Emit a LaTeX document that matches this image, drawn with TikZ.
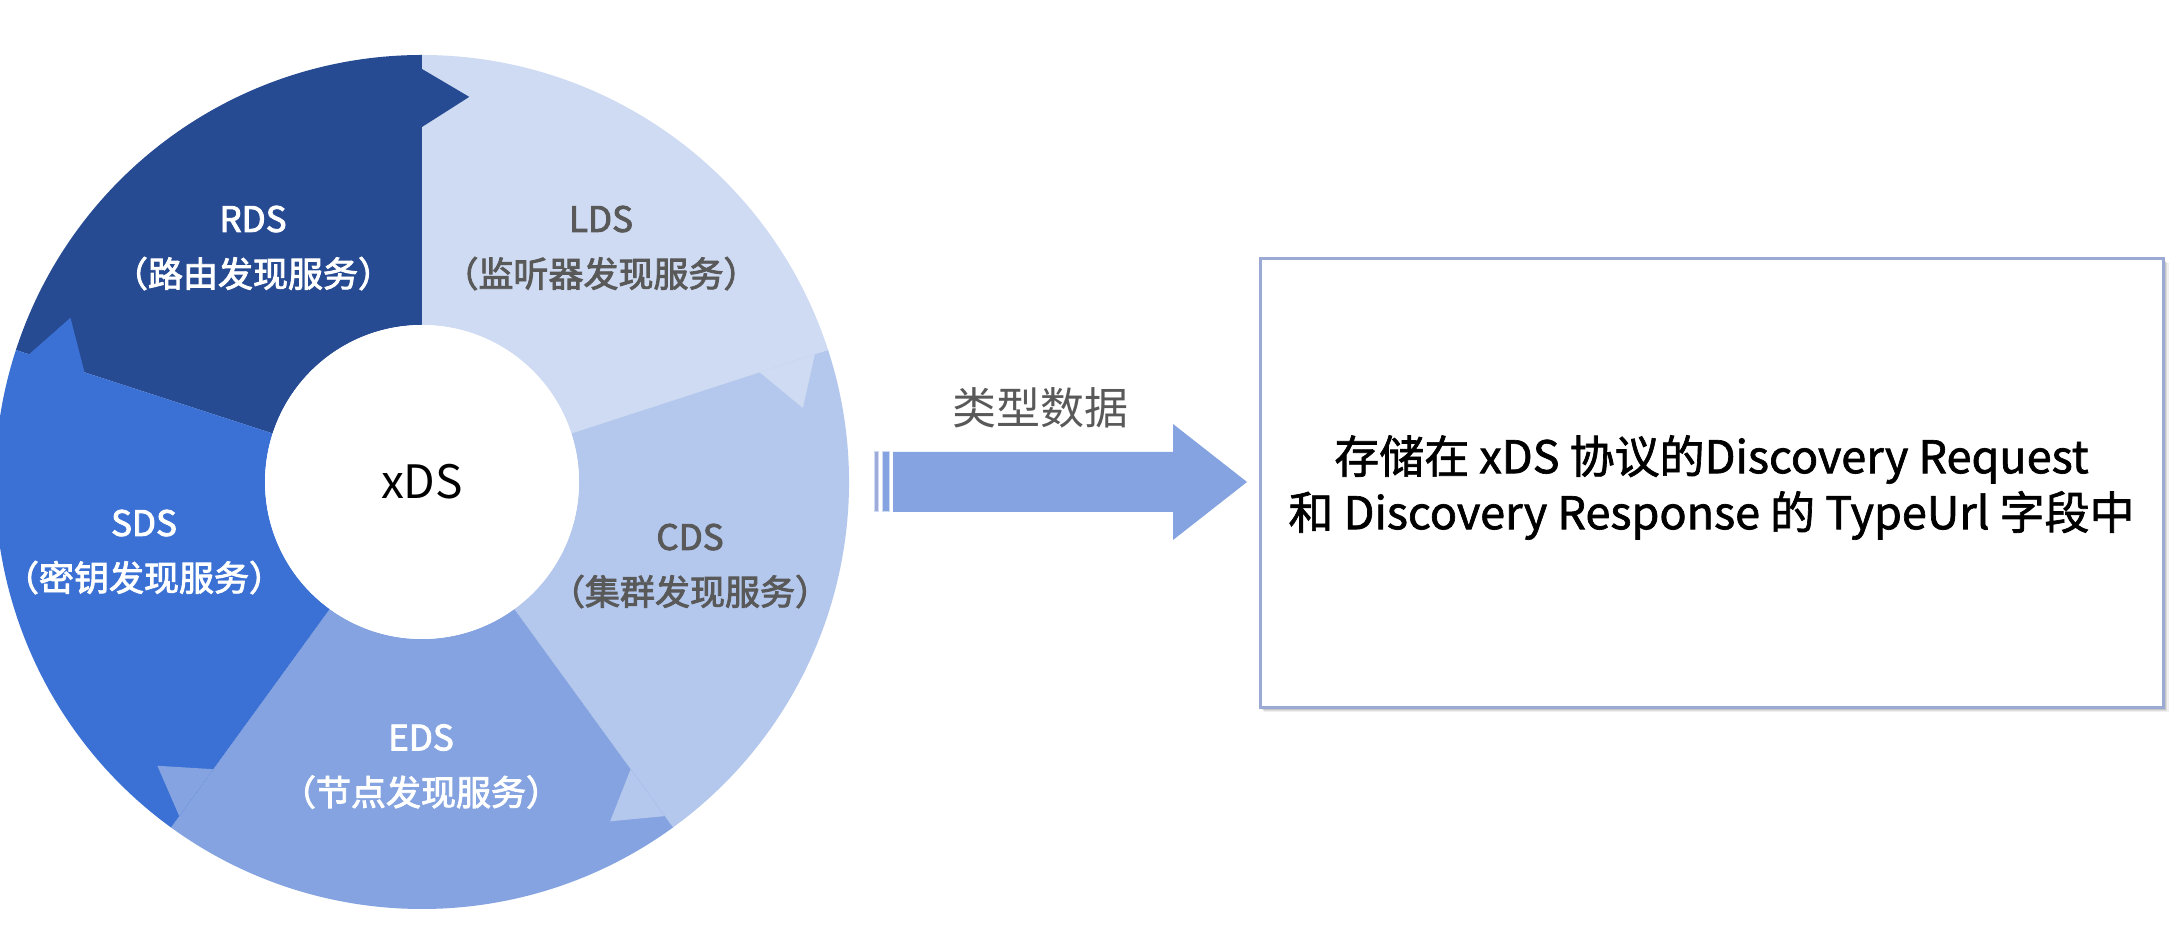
\documentclass[tikz,border=0pt]{standalone}
\usepackage{fontspec}
\setmainfont{Noto Sans CJK SC}
\newfontfamily\segfont[FakeBold=2.5]{Noto Sans CJK SC}
\newfontfamily\boxfont[FakeBold=1.5]{Noto Sans CJK SC}
\usetikzlibrary{calc}
\definecolor{cR}{HTML}{264B93}
\definecolor{cL}{HTML}{CFDBF2}
\definecolor{cC}{HTML}{B4C7EC}
\definecolor{cE}{HTML}{84A3E0}
\definecolor{cS}{HTML}{3B71D4}
\definecolor{txtgray}{HTML}{595959}
\definecolor{boxline}{HTML}{9AAAD4}
\definecolor{barone}{HTML}{9DAADA}
\newcommand{\ringseg}[3]{%
  \fill[#1] (#2:157pt) -- (#2:427pt) arc[start angle=#2, end angle=#3, radius=427pt]
    -- (#3:413pt) -- ({#3-7}:388pt) -- (#3:355pt) -- (#3:157pt)
    arc[start angle=#3, end angle=#2, radius=157pt] -- cycle;}
\newcommand{\ringhead}[2]{%
  \fill[#1] (#2:355pt) -- ({#2-7}:388pt) -- (#2:413pt) -- cycle;}
\begin{document}
\begin{tikzpicture}[x=1pt,y=1pt,
  seglabel/.style={align=center, font=\segfont\fontsize{35}{55}\selectfont, inner sep=0pt},
  boxtext/.style={align=center, font=\boxfont\fontsize{45}{56}\selectfont, inner sep=0pt}]
\useasboundingbox (0,0) rectangle (2178,928);
\fill[white] (0,0) rectangle (2178,928);
% ring
\begin{scope}[shift={(422,446)}]
  \ringseg{cR}{162}{90}
  \ringseg{cL}{90}{18}
  \ringseg{cC}{18}{-54}
  \ringseg{cE}{-54}{-126}
  \ringseg{cS}{-126}{-198}
  \ringhead{cR}{90}
  \ringhead{cL}{18}
  \ringhead{cC}{-54}
  \ringhead{cE}{-126}
  \ringhead{cS}{162}
  \fill[white] (0,0) circle[radius=157pt];
\end{scope}
\node[font=\fontsize{46}{50}\selectfont, text=black] (xds) at (422,446) {xDS};
\node[seglabel, text=white] (rds) at (253,680) {RDS\\（路由发现服务）};
\node[seglabel, text=txtgray] (lds) at (601,680) {LDS\\（监听器发现服务）};
\node[seglabel, text=txtgray] (cds) at (690,362) {CDS\\（集群发现服务）};
\node[seglabel, text=white] (eds) at (421,161.5) {EDS\\（节点发现服务）};
\node[seglabel, text=white] (sds) at (144,376) {SDS\\（密钥发现服务）};
% block arrow
\coordinate (a0) at (893,416);
\coordinate (tip) at (1247,446);
\fill[barone, draw=cL, line width=1pt] (874,416) rectangle (878.5,476);
\fill[cE, draw=cL, line width=1pt] (882,416) rectangle (889,476);
\fill[cE] (a0) -- (1173,416) -- (1173,388) -- (tip) -- (1173,504) -- (1173,476) -- (893,476) -- cycle;
\node[font=\fontsize{44}{50}\selectfont, text=txtgray] (lbl) at (1040,520) {类型数据};
% box with shadow
\fill[black, opacity=0.06] (1264,216) rectangle (2169,665);
\fill[black, opacity=0.08] (1263,217) rectangle (2167,666);
\fill[black, opacity=0.10] (1262,218) rectangle (2166,667);
\node[draw=boxline, line width=3pt, fill=white, minimum width=903pt, minimum height=449pt, inner sep=0pt] (box) at (1711.5,444.5) {};
\node[boxtext] (boxtxt) at ($(box.center)+(0,-4)$) {存储在 xDS 协议的Discovery Request\\和 Discovery Response 的 TypeUrl 字段中};
\end{tikzpicture}
\end{document}
